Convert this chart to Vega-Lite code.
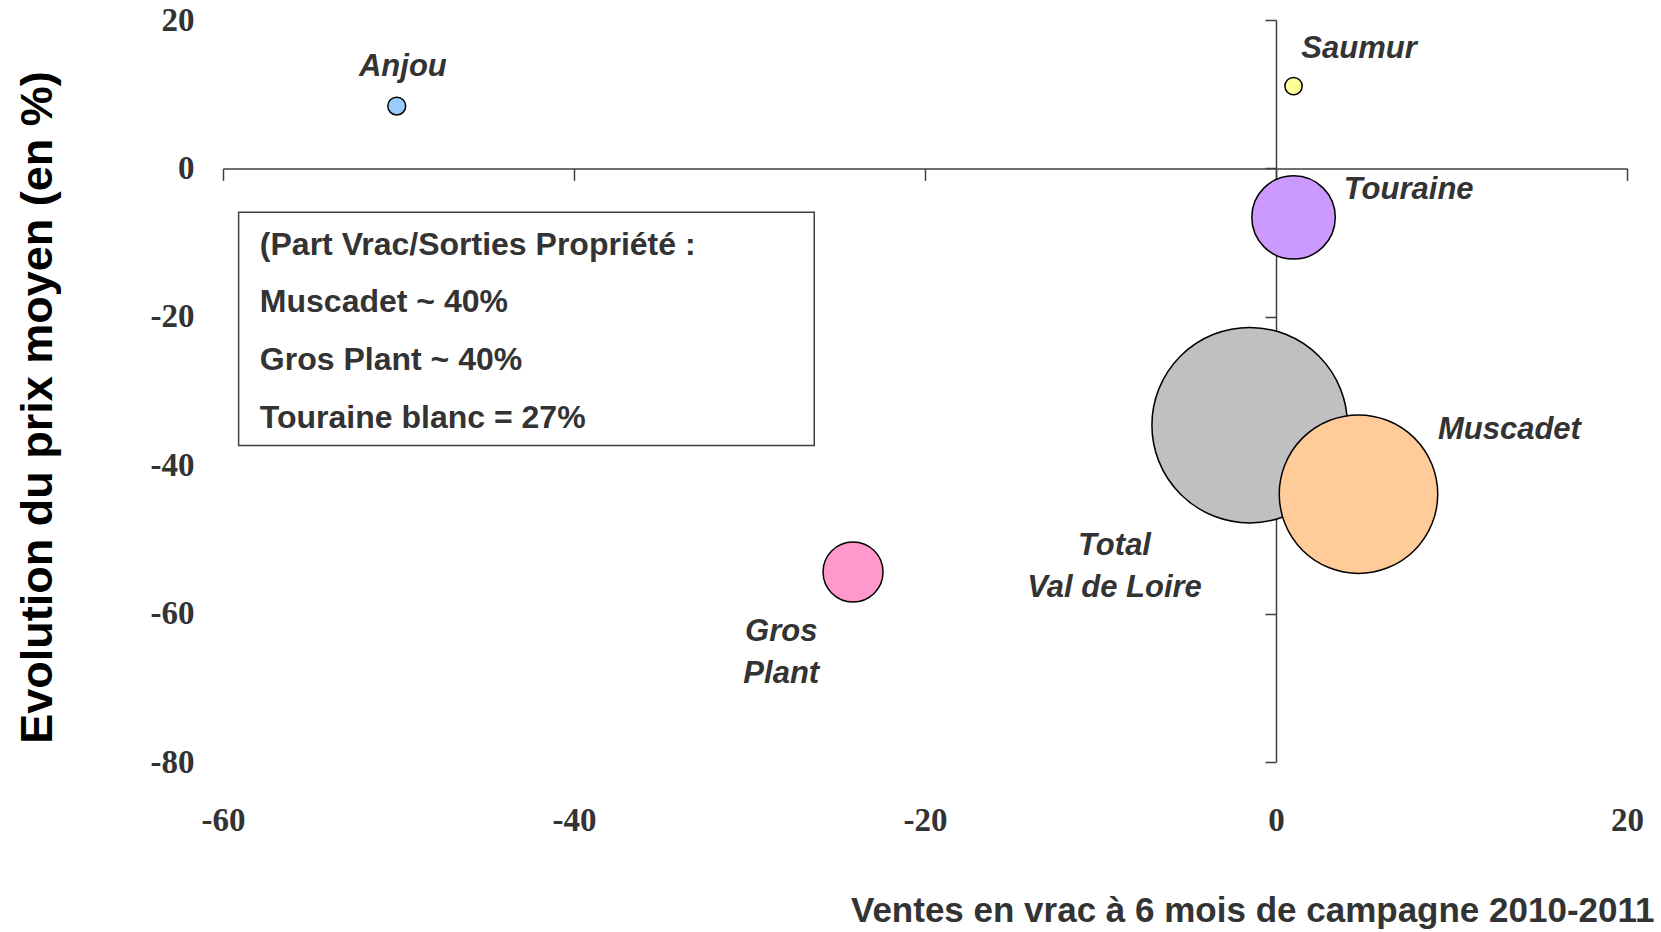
{
  "$schema": "https://vega.github.io/schema/vega-lite/v6.json",
  "width": 1404,
  "height": 742,
  "autosize": {"type": "none"},
  "padding": {"left": 223, "top": 20, "right": 34, "bottom": 170},
  "background": "white",
  "config": {"view": {"stroke": null}},
  "datasets": {
    "bubbles": [
      {"region": "Anjou", "ventes": -50.1, "prix": 8.4, "volume": 3.2},
      {"region": "Saumur", "ventes": 1.0, "prix": 11.1, "volume": 3.0},
      {"region": "Touraine", "ventes": 1.0, "prix": -6.6, "volume": 69.7},
      {"region": "Total Val de Loire", "ventes": -1.5, "prix": -34.6, "volume": 382.2},
      {"region": "Muscadet", "ventes": 4.7, "prix": -43.9, "volume": 251.2},
      {"region": "Gros Plant", "ventes": -24.1, "prix": -54.4, "volume": 36.0}
    ],
    "labels": [
      {"text": "Anjou", "lx": -49.75, "ly": 12.46},
      {"text": "Saumur", "lx": 4.73, "ly": 14.84},
      {"text": "Touraine", "lx": 7.56, "ly": -4.15},
      {"text": "Muscadet", "lx": 13.3, "ly": -36.47},
      {"text": "Total\nVal de Loire", "lx": -9.2, "ly": -52.05},
      {"text": "Gros\nPlant", "lx": -28.19, "ly": -63.73}
    ],
    "note": [
      {"line": "(Part Vrac/Sorties Propriété :", "nx": -57.9, "ny": -10.32},
      {"line": "Muscadet ~ 40%", "nx": -57.9, "ny": -18.02},
      {"line": "Gros Plant ~ 40%", "nx": -57.9, "ny": -25.87},
      {"line": "Touraine blanc = 27%", "nx": -57.9, "ny": -33.58}
    ],
    "box": [{"x1": -59.11, "x2": -26.31, "y1": -5.9, "y2": -37.33}]
  },
  "resolve": {"axis": {"x": "independent", "y": "independent"}},
  "layer": [
    {
      "data": {"name": "box"},
      "mark": {"type": "rect", "fill": "white", "stroke": "#404040", "strokeWidth": 1.5},
      "encoding": {
        "x": {"field": "x1", "type": "quantitative",
              "scale": {"domain": [-60, 20], "nice": false, "zero": false},
              "axis": {"orient": "bottom", "offset": -593.6, "values": [-60, -40, -20, 0, 20], "labels": false, "title": null, "grid": false,
                       "domain": true, "domainColor": "#404040", "domainWidth": 1.5, "ticks": true, "tickSize": 12, "tickColor": "#404040", "tickWidth": 1.5}},
        "x2": {"field": "x2"},
        "y": {"field": "y1", "type": "quantitative",
              "scale": {"domain": [-80, 20], "nice": false, "zero": false},
              "axis": {"orient": "left", "offset": -1053, "values": [-80, -60, -40, -20, 0, 20], "labels": false, "title": null, "grid": false,
                       "domain": true, "domainColor": "#404040", "domainWidth": 1.5, "ticks": true, "tickSize": 11, "tickColor": "#404040", "tickWidth": 1.5}},
        "y2": {"field": "y2"}
      }
    },
    {
      "data": {"name": "bubbles"},
      "mark": {"type": "point", "shape": "circle", "filled": true, "opacity": 1, "stroke": "black", "strokeWidth": 1.5},
      "encoding": {
        "x": {"field": "ventes", "type": "quantitative",
              "axis": {"orient": "bottom", "offset": 0, "title": "Ventes en vrac à 6 mois de campagne 2010-2011", "values": [-60, -40, -20, 0, 20],
                       "labelExpr": "'' + datum.value",
                       "domain": false, "ticks": false, "tickSize": 0, "grid": false,
                       "labelFont": "Liberation Serif", "labelFontWeight": "bold", "labelFontSize": 33, "labelColor": "#333333",
                       "labelPadding": 58, "labelBaseline": "middle", "labelFlush": false, "labelOverlap": false,
                       "titleFont": "Liberation Sans", "titleFontSize": 35, "titleFontWeight": "bold", "titleColor": "#333333",
                       "titleX": 1431, "titleY": 159, "titleAlign": "right", "titleBaseline": "alphabetic"}},
        "y": {"field": "prix", "type": "quantitative",
              "axis": {"orient": "left", "offset": 0, "title": "Evolution du prix moyen (en %)", "values": [-80, -60, -40, -20, 0, 20],
                       "labelExpr": "'' + datum.value",
                       "domain": false, "ticks": false, "tickSize": 0, "grid": false,
                       "labelFont": "Liberation Serif", "labelFontWeight": "bold", "labelFontSize": 33, "labelColor": "#333333",
                       "labelPadding": 29, "labelBaseline": "middle", "labelFlush": false, "labelOverlap": false,
                       "titleFont": "Liberation Sans", "titleFontSize": 45, "titleFontWeight": "bold", "titleColor": "#000000",
                       "titleX": -163, "titleY": 387, "titleAngle": 270, "titleAlign": "center", "titleBaseline": "bottom"}},
        "color": {"field": "region", "type": "nominal", "legend": null,
                  "scale": {"domain": ["Anjou", "Saumur", "Touraine", "Total Val de Loire", "Muscadet", "Gros Plant"],
                            "range": ["#99CCFF", "#FFFF99", "#CC99FF", "#C0C0C0", "#FFCC99", "#FF99CC"]}},
        "size": {"field": "volume", "type": "quantitative", "legend": null,
                 "scale": {"type": "linear", "domain": [0, 400], "range": [0, 40000]}}
      }
    },
    {
      "data": {"name": "labels"},
      "mark": {"type": "text", "font": "Liberation Sans", "fontWeight": "bold", "fontStyle": "italic", "fontSize": 31,
               "color": "#333333", "align": "center", "baseline": "alphabetic", "lineBreak": "\n", "lineHeight": 42},
      "encoding": {
        "x": {"field": "lx", "type": "quantitative", "axis": null},
        "y": {"field": "ly", "type": "quantitative", "axis": null},
        "text": {"field": "text"}
      }
    },
    {
      "data": {"name": "note"},
      "mark": {"type": "text", "font": "Liberation Sans", "fontWeight": "bold", "fontSize": 32,
               "color": "#333333", "align": "left", "baseline": "middle"},
      "encoding": {
        "x": {"field": "nx", "type": "quantitative", "axis": null},
        "y": {"field": "ny", "type": "quantitative", "axis": null},
        "text": {"field": "line"}
      }
    }
  ]
}
